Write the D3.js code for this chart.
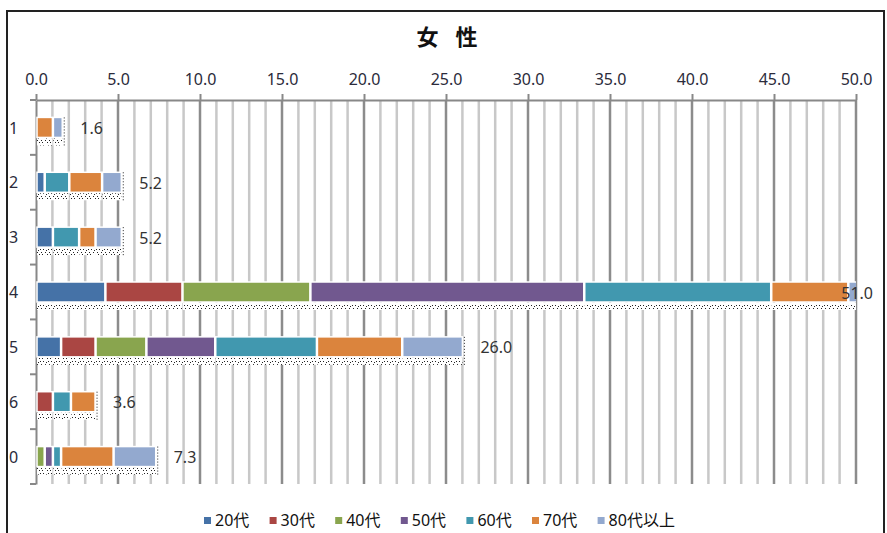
<!DOCTYPE html>
<html>
<head>
<meta charset="utf-8">
<script src="https://cdn.jsdelivr.net/npm/d3@7"></script>
<style>
  body { margin: 0; background: #fff; }
  text { font-family: "Noto Sans", "Noto Sans CJK JP", sans-serif; }
</style>
</head>
<body>
<div class="container"></div>
<script>
var categories = ["1", "2", "3", "4", "5", "6", "0"];
var seriesNames = ["20代", "30代", "40代", "50代", "60代", "70代", "80代以上"];
var colors = ["#4572A7", "#AA4643", "#89A54E", "#71588F", "#4198AF", "#DB843D", "#93A9CF"];

// values, one array per age group
var s20 = [0, 0.5, 1.0, 4.2, 1.5, 0, 0];
var s30 = [0, 0, 0, 4.7, 2.1, 1.0, 0];
var s40 = [0, 0, 0, 7.8, 3.1, 0, 0.5];
var s50 = [0, 0, 0, 16.7, 4.2, 0, 0.5];
var s60 = [0, 1.5, 1.6, 11.4, 6.2, 1.1, 0.5];
var s70 = [1.0, 2.0, 1.0, 4.7, 5.2, 1.5, 3.2];
var s80 = [0.6, 1.2, 1.6, 1.5, 3.7, 0, 2.6];
var totals = [1.6, 5.2, 5.2, 51.0, 26.0, 3.6, 7.3];
var xTickValues = [0, 5, 10, 15, 20, 25, 30, 35, 40, 45, 50];

var allSeries = [s20, s30, s40, s50, s60, s70, s80];
var width = 887, height = 533;
var barH = 20;

var table = categories.map(function (c, i) {
    var row = { cat: c, total: totals[i] };
    seriesNames.forEach(function (s, j) { row[s] = allSeries[j][i]; });
    return row;
});

var svg = d3.select(".container").append("svg")
    .attr("width", width)
    .attr("height", height);

var defs = svg.append("defs");

// dotted texture under the bars
var pat = defs.append("pattern")
    .attr("id", "dots")
    .attr("width", 8).attr("height", 8)
    .attr("patternUnits", "userSpaceOnUse");
pat.append("rect").attr("width", 8).attr("height", 8).attr("fill", "#fff");
[[0, 1], [3, 1], [6, 2], [1, 4], [5, 4], [2, 6], [7, 6]].forEach(function (p) {
    pat.append("rect").attr("x", p[0]).attr("y", p[1]).attr("width", 1).attr("height", 1).attr("fill", "#222");
});

defs.append("clipPath").attr("id", "plotClip")
    .append("rect").attr("x", 36).attr("y", 95).attr("width", 820).attr("height", 400);

// frame
svg.append("rect")
    .attr("x", 7).attr("y", 11)
    .attr("width", 877).attr("height", 540)
    .attr("fill", "none")
    .attr("stroke", "#222")
    .attr("stroke-width", 2);

svg.append("text")
    .attr("x", 450).attr("y", 45)
    .attr("text-anchor", "middle")
    .style("font-family", "'Noto Sans CJK JP', sans-serif")
    .style("font-size", "22px")
    .style("font-weight", "bold")
    .style("letter-spacing", "6px")
    .attr("fill", "#111")
    .text("女 性");

var x = d3.scaleLinear().domain([0, 50]).range([36, 856]);
var y = d3.scaleBand().domain(categories).range([100, 484]);

// gridlines, every 1.0 with darker ones every 5.0
svg.append("g").selectAll("line")
    .data(d3.range(1, 51))
    .enter().append("line")
    .attr("x1", function (d) { return x(d); })
    .attr("x2", function (d) { return x(d); })
    .attr("y1", 100).attr("y2", 484)
    .attr("stroke", function (d) { return d % 5 === 0 ? "#8c8c8c" : "#c8c8c8"; })
    .attr("stroke-width", 2.5);

// top axis
var xAxis = svg.append("g")
    .attr("transform", "translate(0,100)")
    .call(d3.axisTop(x).tickValues(xTickValues).tickFormat(d3.format(".1f")).tickSize(6).tickSizeOuter(0).tickPadding(9));
xAxis.select(".domain").attr("stroke", "#888").attr("stroke-width", 2);
xAxis.selectAll(".tick line").attr("stroke", "#888").attr("stroke-width", 2);
xAxis.selectAll("text")
    .style("font-size", "16px")
    .attr("fill", "#2b2b3b");

// left axis
var yAxis = svg.append("g")
    .attr("transform", "translate(36,0)")
    .call(d3.axisLeft(y).tickSize(0).tickPadding(0));
yAxis.select(".domain").attr("stroke", "#888").attr("stroke-width", 2);
yAxis.selectAll("text")
    .attr("x", -27)
    .attr("text-anchor", "start")
    .attr("dy", "0.38em")
    .style("font-size", "16px")
    .attr("fill", "#2b2b3b");

var bounds = categories.map(function (c) { return y(c); }).concat([484]);
svg.append("g").selectAll("line")
    .data(bounds)
    .enter().append("line")
    .attr("x1", 30).attr("x2", 36)
    .attr("y1", function (d) { return d; })
    .attr("y2", function (d) { return d; })
    .attr("stroke", "#888")
    .attr("stroke-width", 2);

var stack = d3.stack().keys(seriesNames);
var layers = stack(table);

var plot = svg.append("g").attr("clip-path", "url(#plotClip)");

layers.forEach(function (layer, k) {
    var segs = layer.filter(function (d) { return d[1] - d[0] > 0; });
    var g = plot.append("g");
    g.selectAll(".under")
        .data(segs)
        .enter().append("rect")
        .attr("x", function (d) { return x(d[0]) + 1; })
        .attr("y", function (d) { return y(d.data.cat) + y.bandwidth() / 2 - barH / 2 + barH + 1; })
        .attr("width", function (d) { return Math.max(0, x(d[1]) - x(d[0]) - 1); })
        .attr("height", 7)
        .attr("fill", "url(#dots)");
    g.selectAll(".seg")
        .data(segs)
        .enter().append("rect")
        .attr("x", function (d) { return x(d[0]) + 1; })
        .attr("y", function (d) { return y(d.data.cat) + y.bandwidth() / 2 - barH / 2; })
        .attr("width", function (d) { return Math.max(0, x(d[1]) - x(d[0]) - 1); })
        .attr("height", barH)
        .attr("fill", colors[k])
        .attr("stroke", "#fff")
        .attr("stroke-width", 1.5);
});

// little dotted edge at the end of each bar
plot.append("g").selectAll("line")
    .data(table)
    .enter().append("line")
    .attr("x1", function (d) { return Math.min(x(d.total), 856) + 2; })
    .attr("x2", function (d) { return Math.min(x(d.total), 856) + 2; })
    .attr("y1", function (d) { return y(d.cat) + y.bandwidth() / 2 - barH / 2; })
    .attr("y2", function (d) { return y(d.cat) + y.bandwidth() / 2 + barH / 2 + 8; })
    .attr("stroke", "#222")
    .attr("stroke-width", 1)
    .attr("stroke-dasharray", "1,2");

// total labels
svg.append("g").selectAll("text")
    .data(table)
    .enter().append("text")
    .attr("x", function (d) { return d.total > 50 ? x(50) + 17 : x(d.total) + 18; })
    .attr("y", function (d) { return y(d.cat) + y.bandwidth() / 2 + 1; })
    .attr("dy", "0.35em")
    .attr("text-anchor", function (d) { return d.total > 50 ? "end" : "start"; })
    .style("font-size", "16px")
    .attr("fill", "#333")
    .text(function (d) { return d.total.toFixed(1); });

// legend
var legend = svg.append("g").selectAll("g")
    .data(seriesNames)
    .enter().append("g")
    .attr("transform", function (d, i) { return "translate(" + (204 + i * 65.6) + ",517)"; });
legend.append("rect")
    .attr("x", 0).attr("y", 0)
    .attr("width", 7).attr("height", 7)
    .attr("fill", function (d, i) { return colors[i]; });
legend.append("text")
    .attr("x", 11).attr("y", 3)
    .attr("dy", "0.35em")
    .style("font-family", "'Noto Sans', 'Noto Sans CJK JP', sans-serif")
    .style("font-size", "16px")
    .attr("fill", "#111")
    .text(function (d) { return d; });
</script>
</body>
</html>
